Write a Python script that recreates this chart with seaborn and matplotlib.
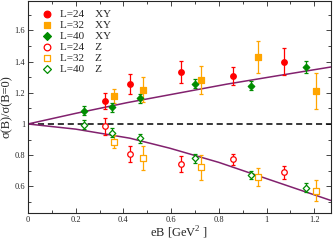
import matplotlib
matplotlib.use("Agg")
import matplotlib.pyplot as plt
import seaborn as sns
from matplotlib.ticker import MultipleLocator

# ---- data ----
x_L24 = [0.322, 0.428, 0.643, 0.858, 1.072]
x_L32 = [0.3625, 0.483, 0.726, 0.965, 1.208]
x_L40 = [0.235, 0.351, 0.468, 0.700, 0.935, 1.167]

xy_L24 = [1.146, 1.255, 1.333, 1.306, 1.400]
xy_L24_err = [0.051, 0.063, 0.072, 0.058, 0.084]
xy_L32 = [1.180, 1.220, 1.280, 1.429, 1.210]
xy_L32_err = [0.047, 0.080, 0.090, 0.100, 0.114]
xy_L40 = [1.085, 1.106, 1.164, 1.259, 1.246, 1.365]
xy_L40_err = [0.030, 0.030, 0.030, 0.030, 0.027, 0.037]

z_L24 = [0.985, 0.809, 0.745, 0.773, 0.690]
z_L24_err = [0.055, 0.052, 0.052, 0.035, 0.040]
z_L32 = [0.887, 0.780, 0.724, 0.660, 0.573]
z_L32_err = [0.043, 0.076, 0.080, 0.060, 0.067]
z_L40 = [0.995, 0.945, 0.909, 0.780, 0.671, 0.592]
z_L40_err = [0.030, 0.030, 0.030, 0.030, 0.025, 0.030]

upper_x = [0.0, 0.2, 0.417, 0.833, 1.05, 1.27]
upper_y = [1.0, 1.068, 1.137, 1.255, 1.31, 1.365]
lower_x = [0.0, 0.2, 0.427, 0.594, 0.8, 1.0, 1.27]
lower_y = [1.0, 0.967, 0.909, 0.845, 0.754, 0.65, 0.51]

RED = "#ff0000"
ORANGE = "#ffa500"
GREEN = "#008c00"
PURPLE = "#82216e"

sns.set_style("ticks")
plt.rcParams["font.family"] = ["Liberation Serif", "DejaVu Serif"]
plt.rcParams["mathtext.fontset"] = "custom"
plt.rcParams["mathtext.rm"] = "Liberation Serif"

fig = plt.figure(figsize=(3.33, 2.40), dpi=100)
ax = fig.add_axes([0.084, 0.1125, 0.91, 0.885])

# fit curves and reference line
sns.lineplot(x=upper_x, y=upper_y, ax=ax, color=PURPLE, lw=1.1, sort=False)
sns.lineplot(x=lower_x, y=lower_y, ax=ax, color=PURPLE, lw=1.1, sort=False)
ax.axhline(1.0, color="black", lw=1.1, ls=(0, (4, 2.5)), zorder=1)

series = [
    (x_L24, xy_L24, xy_L24_err, RED, "o", True, "L=24    XY"),
    (x_L32, xy_L32, xy_L32_err, ORANGE, "s", True, "L=32    XY"),
    (x_L40, xy_L40, xy_L40_err, GREEN, "D", True, "L=40    XY"),
    (x_L24, z_L24, z_L24_err, RED, "o", False, "L=24    Z"),
    (x_L32, z_L32, z_L32_err, ORANGE, "s", False, "L=32    Z"),
    (x_L40, z_L40, z_L40_err, GREEN, "D", False, "L=40    Z"),
]

for xs, ys, es, col, mk, filled, lab in series:
    ax.errorbar(xs, ys, yerr=es, fmt="none", ecolor=col, elinewidth=0.9,
                capsize=1.6, capthick=0.9, zorder=3)
    size = 16 if mk != "D" else 11
    sns.scatterplot(x=xs, y=ys, ax=ax, marker=mk, s=size, label=lab,
                    facecolor=col if filled else "white", edgecolor=col,
                    linewidth=0.9, zorder=4)

ax.set_xlim(0, 1.27)
ax.set_ylim(0.43, 1.79)
ax.xaxis.set_minor_locator(MultipleLocator(0.1))
ax.yaxis.set_minor_locator(MultipleLocator(0.1))
ax.set_xticks([0, 0.2, 0.4, 0.6, 0.8, 1.0, 1.2])
ax.set_xticklabels(["0", "0.2", "0.4", "0.6", "0.8", "1", "1.2"])
ax.set_yticks([0.6, 0.8, 1.0, 1.2, 1.4, 1.6])
ax.set_yticklabels(["0.6", "0.8", "1", "1.2", "1.4", "1.6"])
ax.tick_params(which="both", direction="in", top=True, right=True,
               labelsize=6, width=0.6, pad=2)
ax.tick_params(which="major", length=3.5)
ax.tick_params(which="minor", length=2)
for s in ax.spines.values():
    s.set_linewidth(0.8)

ax.set_xlabel("eB [GeV$^2$ ]", fontsize=9, labelpad=1)
ax.set_ylabel("σ(B)/σ(B=0)", fontsize=9, labelpad=1)

ax.legend(loc="upper left", bbox_to_anchor=(0.029, 0.979), frameon=False,
          fontsize=8, handlelength=1.0, handletextpad=0.7,
          labelspacing=0.1, borderaxespad=0, markerscale=1.2)

fig.savefig("out.png", dpi=100)
